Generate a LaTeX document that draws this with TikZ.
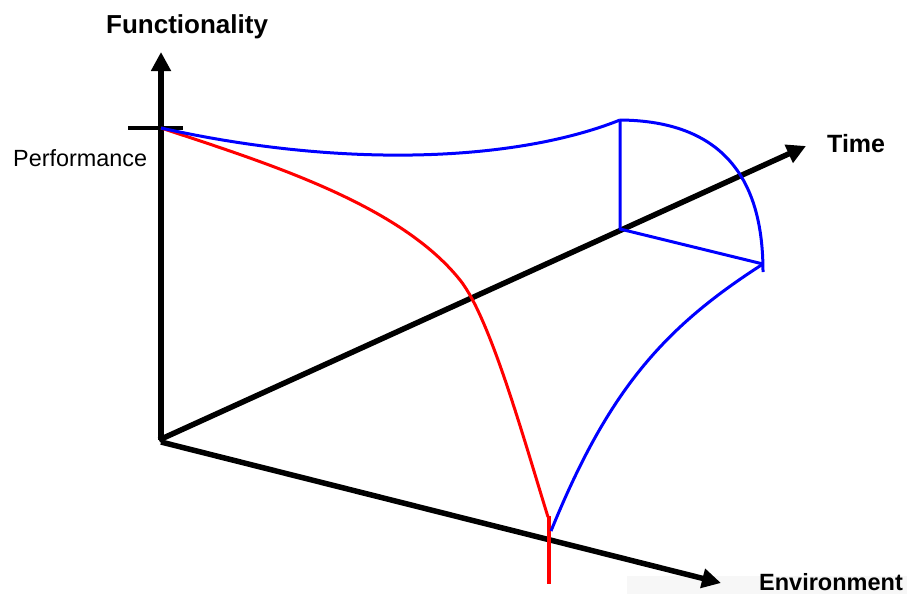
\documentclass[tikz,border=0pt]{standalone}
\usepackage{fontspec}
\setmainfont{Liberation Sans}
\usetikzlibrary{arrows.meta}
\begin{document}
\begin{tikzpicture}[x=1pt,y=-1pt,
  axis/.style={line width=5.5pt,-{Triangle[length=19pt,width=19pt]}},
  bluec/.style={draw=blue,line width=3pt,line join=round},
  redc/.style={draw=red,line width=3pt,line join=round},
  lbl/.style={inner sep=0pt,anchor=base west}]
\useasboundingbox (0,0) rectangle (907,594);
\fill[black!3] (627,576) rectangle (907,594);
% axis points
\coordinate (O) at (161,440);
\coordinate (Ftip) at (161,52);
\coordinate (Ttip) at (806,146);
\coordinate (Etip) at (721,583);
\coordinate (P0) at (161,128);
\coordinate (PL) at (128,128);
\coordinate (PR) at (183,128);
\coordinate (B1) at (620,120);
\coordinate (B2) at (620,229);
\coordinate (B3) at (763,264);
\coordinate (B4) at (763,272);
\coordinate (Bend) at (551,531);
\coordinate (Rmid) at (460,280);
\coordinate (Rend) at (548,517);
\coordinate (Rtop) at (549,516);
\coordinate (Rbot) at (549,584);
% axes
\draw[axis] (O) -- (Ftip);
\draw[axis] ([xshift=-2pt]O) -- (Ttip);
\draw[axis] ([yshift=-2pt]O) -- (Etip);
\draw[line width=4pt] (PL) -- (PR);
% labels
\node[lbl,font=\bfseries\fontsize{26}{30}\selectfont] (fl) at (106,34) {Functionality};
\node[lbl,font=\fontsize{23.4}{28}\selectfont] (pl) at (13,166) {Performance};
\node[lbl,font=\bfseries\fontsize{25}{30}\selectfont] (tl) at (827,152) {Time};
\node[lbl,font=\bfseries\fontsize{23.5}{28}\selectfont] (el) at (759,590) {Environment};
% red curve
\draw[redc] (P0) .. controls (271,164.3) and (400,205) .. (Rmid)
  .. controls (490,317.5) and (523.2,437) .. (Rend);
\draw[red,line width=4.5pt] (Rtop) -- (Rbot);
% blue curves
\draw[bluec] (P0) .. controls (350,170) and (520,160) .. (B1);
\draw[bluec] (B1) -- (B2) -- (B3);
\draw[bluec] (B1) .. controls (740,121) and (763,200) .. (B4);
\draw[bluec] (B3) .. controls (663,328) and (608,391) .. (Bend);
\end{tikzpicture}
\end{document}
